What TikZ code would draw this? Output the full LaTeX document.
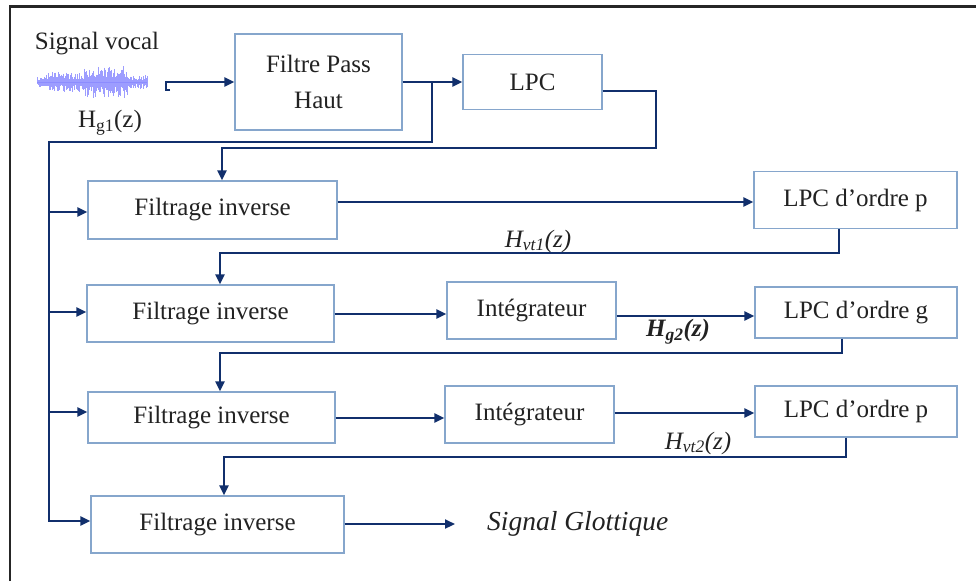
\documentclass[tikz,border=0pt]{standalone}
\usepackage{fontspec}
\setmainfont{Liberation Serif}
\usetikzlibrary{arrows.meta}
\definecolor{navy}{HTML}{112F6C}
\definecolor{boxc}{HTML}{86A6CC}
\definecolor{txt}{HTML}{222222}
\definecolor{wave}{HTML}{8C8CFF}
\begin{document}
\begin{tikzpicture}[x=1pt,y=-1pt,
  blk/.style={draw=boxc, line width=1.2pt, fill=white, text=txt, inner sep=0pt,
    font=\fontsize{25}{36}\selectfont, align=center},
  conn/.style={draw=navy, line width=2.2pt},
  arr/.style={conn, -{Triangle[length=10pt,width=9pt]}},
  lbl/.style={text=txt, inner sep=0pt, font=\fontsize{25}{30}\selectfont}]
\useasboundingbox (0,0) rectangle (976,581);
% frame
\draw[line width=2.5pt, draw=black!85] (10,581) -- (10,6.5) -- (976,6.5);

% waveform
\pgfmathsetseed{7}
\foreach \i in {0,...,110}{
  \pgfmathsetmacro\xx{37+\i}
  \pgfmathsetmacro\base{ifthenelse(\xx<44, 5, ifthenelse(\xx<84, 9, ifthenelse(\xx<128, 15, 6)))}
  \pgfmathsetmacro\up{\base*(0.3+0.8*rnd)}
  \pgfmathsetmacro\dn{\base*(0.3+0.8*rnd)}
  \draw[draw=wave, opacity=0.85, line width=0.7pt] ({\xx},{82-\up}) -- ({\xx},{82+\dn});
}
\draw[draw=wave, line width=0.8pt] (37,82) -- (147,82);

% texts
\node[lbl] (sv) at (97,44) {Signal vocal};
\node[lbl] (hg1) at (110,123) {H\textsubscript{g1}(z)};

% blocks
\node[blk, minimum width=167pt, minimum height=96pt] (fph) at (318.5,82) {Filtre Pass\\Haut};
\node[blk, minimum width=139pt, minimum height=55pt] (lpc) at (532.5,82) {LPC};
\node[blk, minimum width=249pt, minimum height=58pt] (fi1) at (212.5,210) {Filtrage inverse};
\node[blk, minimum width=203pt, minimum height=57pt] (lpcp1) at (855.5,200) {LPC d’ordre p};
\node[blk, minimum width=247pt, minimum height=57pt] (fi2) at (210.5,313.5) {Filtrage inverse};
\node[blk, minimum width=169pt, minimum height=57pt] (int1) at (531.5,310.5) {Intégrateur};
\node[blk, minimum width=202pt, minimum height=51pt] (lpcg) at (856,312.5) {LPC d’ordre g};
\node[blk, minimum width=247pt, minimum height=51pt] (fi3) at (211.5,417.5) {Filtrage inverse};
\node[blk, minimum width=169pt, minimum height=57pt] (int2) at (529.5,414.5) {Intégrateur};
\node[blk, minimum width=202pt, minimum height=51pt] (lpcp2) at (856,411.5) {LPC d’ordre p};
\node[blk, minimum width=253pt, minimum height=57pt] (fi4) at (217.5,524.5) {Filtrage inverse};
\node[lbl, anchor=west, font=\itshape\fontsize{27.5}{30}\selectfont] (sg) at (487,524) {Signal Glottique};

% transfer labels
\node[lbl, font=\itshape\fontsize{25}{30}\selectfont] (hvt1) at (538,241) {H\textsubscript{vt1}(z)};
\node[lbl, font=\bfseries\itshape\fontsize{25}{30}\selectfont] (hg2) at (678,332) {H\textsubscript{g2}(z)};
\node[lbl, font=\itshape\fontsize{25}{30}\selectfont] (hvt2) at (698,443) {H\textsubscript{vt2}(z)};

% coordinates
\coordinate (s0) at (170,90);
\coordinate (s1) at (166,90);
\coordinate (j) at (432,82);
\coordinate (bt) at (49,142);
\coordinate (b1) at (49,212);
\coordinate (b2) at (49,312);
\coordinate (b3) at (49,412);
\coordinate (b4) at (49,521);
\coordinate (r0a) at (656,91);
\coordinate (r0b) at (222,148);
\coordinate (y1) at (0,202);
\coordinate (r1a) at (839,253);
\coordinate (r1b) at (220,253);
\coordinate (y2a) at (0,314);
\coordinate (y2b) at (0,316);
\coordinate (r2a) at (842,353);
\coordinate (r2b) at (220,353);
\coordinate (y3a) at (0,418);
\coordinate (y3b) at (0,413);
\coordinate (r3a) at (846,457);
\coordinate (r3b) at (224,457);
\coordinate (e4) at (455,524);

% connectors
\draw[arr] (s0) -- (s1) |- (fph.west);
\draw[arr] (fph.east) -- (lpc.west);
\draw[arr] (j) |- (bt) -- (b4) -- (fi4.west |- b4);
\draw[arr] (b1) -- (fi1.west |- b1);
\draw[arr] (b2) -- (fi2.west |- b2);
\draw[arr] (b3) -- (fi3.west |- b3);
\draw[arr] (lpc.east |- r0a) -- (r0a) |- (r0b) -- (r0b |- fi1.north);
\draw[arr] (fi1.east |- y1) -- (lpcp1.west |- y1);
\draw[arr] (lpcp1.south -| r1a) -- (r1a) -- (r1b) -- (r1b |- fi2.north);
\draw[arr] (fi2.east |- y2a) -- (int1.west |- y2a);
\draw[arr] (int1.east |- y2b) -- (lpcg.west |- y2b);
\draw[arr] (lpcg.south -| r2a) -- (r2a) -- (r2b) -- (r2b |- fi3.north);
\draw[arr] (fi3.east |- y3a) -- (int2.west |- y3a);
\draw[arr] (int2.east |- y3b) -- (lpcp2.west |- y3b);
\draw[arr] (lpcp2.south -| r3a) -- (r3a) -- (r3b) -- (r3b |- fi4.north);
\draw[arr] (fi4.east |- e4) -- (e4);
\end{tikzpicture}
\end{document}
